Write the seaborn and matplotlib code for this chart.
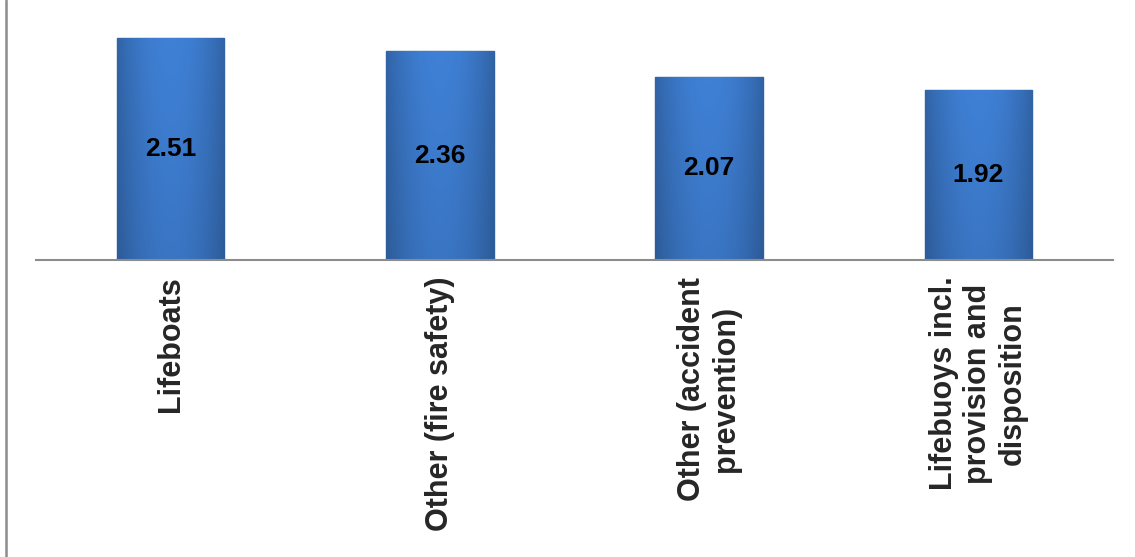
import matplotlib
matplotlib.use("Agg")
import matplotlib.pyplot as plt
import seaborn as sns
import numpy as np
import pandas as pd
from matplotlib.lines import Line2D

# Data
categories = ['Lifeboats', 'Other (fire safety)', 'Other (accident\nprevention)',
              'Lifebuoys incl.\nprovision and\ndisposition']
values = [2.51, 2.36, 2.07, 1.92]

df = pd.DataFrame({'category': categories, 'value': values})

sns.set_theme(style="white")
plt.rcParams['font.family'] = ['Liberation Sans', 'DejaVu Sans']

fig = plt.figure(figsize=(11.35, 5.57), dpi=100)
ax = fig.add_axes([36 / 1135, 1 - 260 / 557, (1113 - 36) / 1135, 260 / 557])

sns.barplot(data=df, x='category', y='value', color='#3d7bd0', width=0.4,
            edgecolor='#2f609f', linewidth=1.0, ax=ax)

# soft bevel-like shading inside each bar
base = np.array([0x3e, 0x7e, 0xd2]) / 255
hx = np.linspace(0, 1, 60)
prof = 1 - 0.22 * np.abs(hx - 0.5) ** 2 * 4
for p in ax.patches:
    x0, y0 = p.get_x(), p.get_y()
    w, ht = p.get_width(), p.get_height()
    v = np.linspace(0, 1, 80)[:, None]
    shade = prof[None, :] * (0.93 + 0.09 * v)
    img = np.clip(base[None, None, :] * shade[:, :, None], 0, 1)
    im = ax.imshow(img, extent=[x0, x0 + w, y0, y0 + ht], origin='lower',
                   aspect='auto', zorder=p.get_zorder() + 0.1, interpolation='bilinear')
    im.set_clip_path(p)
ax.set_aspect('auto')
ax.set_xlim(-0.5, len(categories) - 0.5)
ax.set_ylim(0, 2.94)

for c in ax.containers:
    ax.bar_label(c, labels=[f'{v:.2f}' for v in values], label_type='center',
                 fontsize=19, fontweight='bold', color='black', zorder=5)

for s in ['top', 'right', 'left']:
    ax.spines[s].set_visible(False)
ax.spines['bottom'].set_color('#8c8c8c')
ax.spines['bottom'].set_linewidth(1.5)
ax.set_yticks([])
ax.set_xlabel('')
ax.set_ylabel('')
ax.tick_params(axis='x', length=0, pad=12)
plt.setp(ax.get_xticklabels(), rotation=90, fontsize=22, fontweight='bold',
         ha='center', va='top', multialignment='center', linespacing=1.2)

# outer frame line on the left
fig.add_artist(Line2D([6 / 1135, 6 / 1135], [0, 1], color='#8c8c8c', linewidth=1.8))

fig.savefig('out.png', dpi=100)
